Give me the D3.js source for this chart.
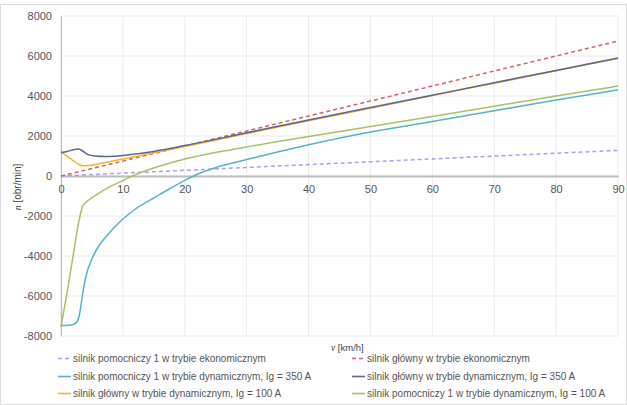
<!DOCTYPE html>
<html><head><meta charset="utf-8">
<script src="https://cdn.jsdelivr.net/npm/d3@7"></script>
<style>
body{margin:0;background:#fff;}
svg{display:block;font-family:"Liberation Sans",Arial,sans-serif;}
</style></head>
<body><svg id="c" width="627" height="405"></svg>
<script>
const xTicks = [0,10,20,30,40,50,60,70,80,90];
const yTicks = [-8000,-6000,-4000,-2000,0,2000,4000,6000,8000];

const pomEkoV = [0, 90];
const pomEkoN = [0, 1280];
const glEkoV = [0, 90];
const glEkoN = [0, 6750];
const pom350V = [0, 1, 2, 2.5, 3, 3.5, 4, 5, 6, 7.5, 10, 12.5, 15, 17.5, 20, 22, 25, 30, 35, 40, 50, 60, 70, 80, 90];
const pom350N = [-7480, -7470, -7420, -7330, -6900, -5900, -5050, -4150, -3550, -2950, -2150, -1550, -1100, -650, -220, 90, 420, 820, 1200, 1560, 2200, 2720, 3260, 3800, 4300];
const gl350V = [0, 1, 2, 2.8, 3.5, 4.3, 5.5, 7, 8.5, 10, 15, 20, 30, 40, 50, 60, 70, 80, 90];
const gl350N = [1180, 1230, 1310, 1350, 1250, 1080, 1000, 975, 985, 1030, 1230, 1520, 2160, 2800, 3420, 4040, 4660, 5280, 5900];
const gl100V = [0, 1, 2, 3, 3.5, 4.5, 6, 8, 10, 15, 20, 30, 40, 50, 60, 70, 80, 90];
const gl100N = [1200, 980, 760, 560, 510, 520, 600, 720, 850, 1160, 1470, 2120, 2760, 3390, 4020, 4640, 5260, 5880];
const pom100V = [0, 1, 2, 3, 3.5, 4.5, 6, 8, 10, 11.5, 15, 20, 30, 40, 50, 60, 70, 80, 90];
const pom100N = [-7530, -5800, -3900, -2100, -1500, -1200, -880, -520, -230, 0, 400, 850, 1450, 1970, 2470, 2980, 3490, 4000, 4500];

const seriesNames = [
  "silnik pomocniczy 1 w trybie ekonomicznym",
  "silnik główny w trybie ekonomicznym",
  "silnik pomocniczy 1 w trybie dynamicznym, Ig = 350 A",
  "silnik główny w trybie dynamicznym, Ig = 350 A",
  "silnik główny w trybie dynamicznym, Ig = 100 A",
  "silnik pomocniczy 1 w trybie dynamicznym, Ig =  100 A"
];
const seriesColors = ["#a3a3ee", "#d0626c", "#56b3cc", "#5c6596", "#f7b821", "#a8c266"];
const seriesDash = ["4,3", "4,3", null, null, null, null];
const seriesV = [pomEkoV, glEkoV, pom350V, gl350V, gl100V, pom100V];
const seriesN = [pomEkoN, glEkoN, pom350N, gl350N, gl100N, pom100N];

const svg = d3.select("#c");
const W = 627, H = 405;
const L = 61, R = 618, T = 16, B = 336;

svg.append("rect").attr("x",0.5).attr("y",4.5).attr("width",W-1).attr("height",H-5)
  .attr("fill","#fff").attr("stroke","#dcdcdc");

const x = d3.scaleLinear().domain([0,90]).range([L,R]);
const y = d3.scaleLinear().domain([-8000,8000]).range([B,T]);

// grid
const g = svg.append("g");
g.selectAll("line.v").data(xTicks).join("line")
  .attr("x1",d=>x(d)).attr("x2",d=>x(d)).attr("y1",T).attr("y2",B)
  .attr("stroke","#ebebeb").attr("stroke-width",1);
g.selectAll("line.h").data(yTicks).join("line")
  .attr("x1",L).attr("x2",R+1).attr("y1",d=>y(d)).attr("y2",d=>y(d))
  .attr("stroke","#ebebeb").attr("stroke-width",1);

// y axis
const yAx = svg.append("g").attr("transform",`translate(${L},0)`)
  .call(d3.axisLeft(y).tickValues(yTicks).tickSize(0).tickPadding(9).tickFormat(d=>String(d)));
yAx.select(".domain").attr("stroke","#bdbdbd").attr("stroke-width",1.2);
yAx.selectAll("text").attr("fill","#555").attr("font-size",11).attr("font-family","Liberation Sans, Arial, sans-serif");

// x axis at y=0
const xAx = svg.append("g").attr("transform",`translate(0,${y(0)})`)
  .call(d3.axisBottom(x).tickValues(xTicks).tickSize(0).tickPadding(9).tickFormat(d=>String(d)));
xAx.select(".domain").attr("stroke","#bdbdbd").attr("stroke-width",2);
xAx.selectAll("text").attr("fill","#555").attr("font-size",11).attr("font-family","Liberation Sans, Arial, sans-serif");

// lines
const line = d3.line().x(d=>x(d[0])).y(d=>y(d[1])).curve(d3.curveMonotoneX);
const order = [0,1,2,5,4,3];
order.forEach(i=>{
  const pts = seriesV[i].map((v,k)=>[v, seriesN[i][k]]);
  svg.append("path").attr("d",line(pts)).attr("fill","none")
    .attr("stroke",seriesColors[i]).attr("stroke-width",1.5)
    .attr("stroke-dasharray",seriesDash[i]);
});

// axis titles
const yt = svg.append("text").attr("transform","translate(21,187) rotate(-90)")
  .attr("text-anchor","middle").attr("font-size",10).attr("fill","#444");
yt.append("tspan").attr("font-style","italic").attr("font-family","Liberation Serif, serif").text("n");
yt.append("tspan").text(" [obr/min]");

const xt = svg.append("text").attr("x",331).attr("y",351).attr("font-size",9.5).attr("fill","#444");
xt.append("tspan").attr("font-style","italic").attr("font-family","Liberation Serif, serif").text("v");
xt.append("tspan").text(" [km/h]");

// legend
const legPos = [[58,362],[352,362],[58,380],[352,380],[58,397],[352,397]];
seriesNames.forEach((name,i)=>{
  const [lx,ly] = legPos[i];
  svg.append("line").attr("x1",lx).attr("x2",lx+13).attr("y1",ly-3.5).attr("y2",ly-3.5)
    .attr("stroke",seriesColors[i]).attr("stroke-width",1.6).attr("stroke-dasharray",seriesDash[i]);
  svg.append("text").attr("x",lx+15).attr("y",ly).attr("font-size",10).attr("fill","#555")
    .text(name);
});
</script></body></html>
